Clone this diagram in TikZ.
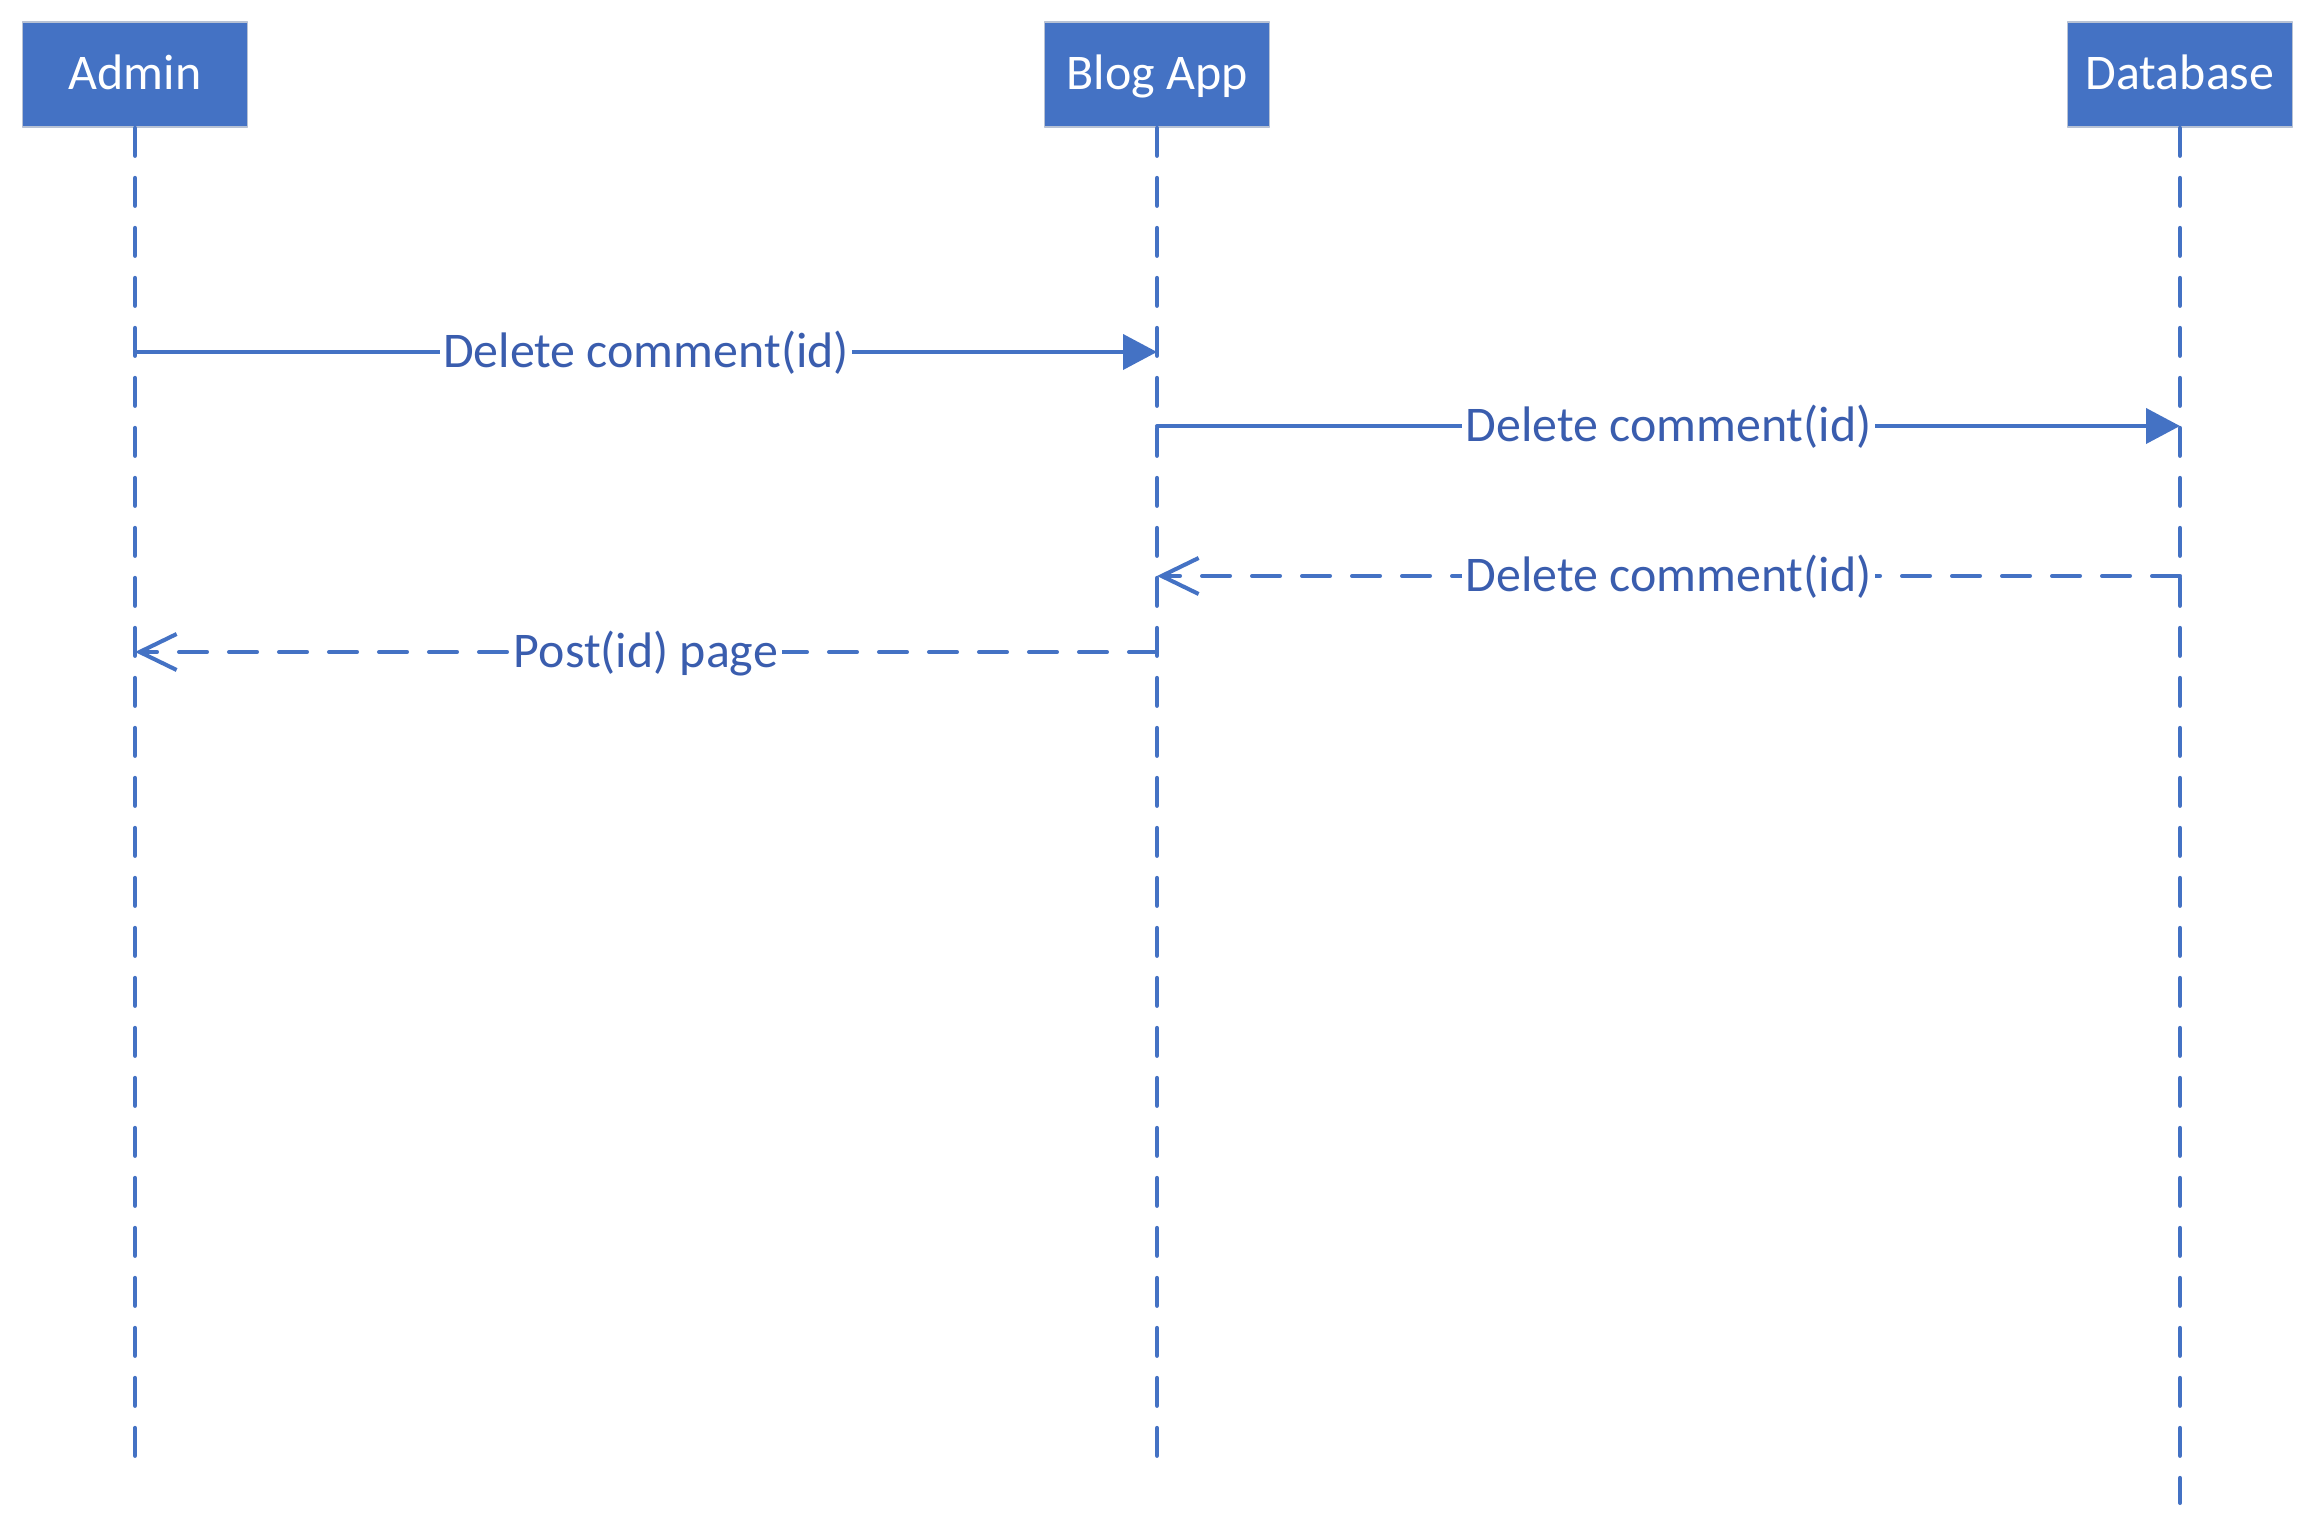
\documentclass[tikz,border=0pt]{standalone}
\usepackage{fontspec}
\setmainfont{Carlito}
\usetikzlibrary{arrows.meta}
\definecolor{lblue}{HTML}{4472C4}
\definecolor{tblue}{HTML}{3A5DAE}
\definecolor{lgrey}{HTML}{B8C2D4}
\begin{document}
\begin{tikzpicture}[x=0.1mm,y=-0.1mm,line join=round,line cap=round,lblue,line width=1.15pt,
	every node/.style={font=\fontsize{14.2}{17}\selectfont},
	actor/.style={draw=lgrey,line width=0.5pt,fill=lblue,text=white,minimum width=22.5mm,minimum height=10.5mm,text height=0.83em,text depth=0pt,inner sep=0pt},
	lifeline/.style={dash pattern=on 2.8mm off 2.2mm},
	call/.style={-{Triangle[length=3.4mm,width=3.5mm]}},
	reply/.style={dash pattern=on 2.8mm off 2.2mm,-{Straight Barb[length=3.7mm,width=3.6mm]}},
	msgtext/.style={fill=white,text=tblue,inner xsep=1pt,inner ysep=0pt,anchor=base,yshift=-1.6mm}]
	\def\xa{135}%Admin
	\def\xb{1157}%Blog App
	\def\xc{2180}%Database
	\useasboundingbox (0,0) rectangle (2321,1521);
	\path
	%========các đối tượng
	(\xa,74.5) node[actor] (admin) {Admin}
	(\xb,74.5) node[actor] (blog) {Blog App}
	(\xc,74.5) node[actor] (db) {Database}
	%========đáy các đường đời
	(\xa,1460) coordinate (admin-end)
	(\xb,1460) coordinate (blog-end)
	(\xc,1503) coordinate (db-end)
	%========các điểm thông điệp
	(\xa,352) coordinate (a1)
	(\xb,352) coordinate (b1)
	(\xb,426) coordinate (b2)
	(\xc,426) coordinate (c2)
	(\xc,576) coordinate (c3)
	(\xb,576) coordinate (b3)
	(\xb,652) coordinate (b4)
	(\xa,652) coordinate (a4)
	;
	\draw[lifeline] (admin.south)--(admin-end) (blog.south)--(blog-end) (db.south)--(db-end);
	\draw[call] (a1)--(b1) node[midway,msgtext] {Delete comment(id)};
	\draw[call] (b2)--(c2) node[midway,msgtext] {Delete comment(id)};
	\draw[reply] (c3)--(b3) node[midway,msgtext] {Delete comment(id)};
	\draw[reply] (b4)--(a4) node[midway,msgtext] {Post(id) page};
\end{tikzpicture}
\end{document}
